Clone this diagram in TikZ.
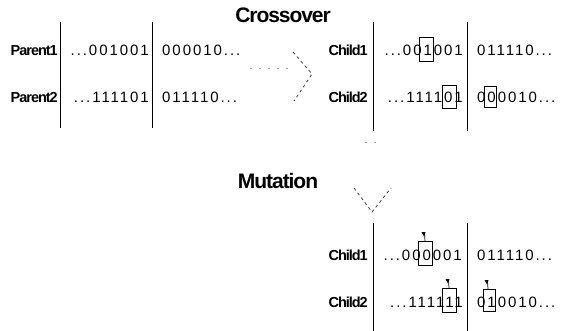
\documentclass[tikz,border=0pt]{standalone}
\usepackage{fontspec}
\setmainfont{Liberation Sans}
\newfontfamily\bitsfont[LetterSpace=13]{Liberation Sans}
\newfontfamily\lblfont[LetterSpace=-7]{Liberation Sans}
\newfontfamily\ttlfont[LetterSpace=-5]{Liberation Sans}
\usetikzlibrary{arrows.meta}
\tikzset{
  bits/.style={font=\bitsfont\fontsize{15}{15}\selectfont, inner sep=0pt},
  lbl/.style={font=\lblfont\bfseries\fontsize{14.5}{14.5}\selectfont, inner sep=0pt, anchor=base east},
  ttl/.style={font=\ttlfont\bfseries\fontsize{21}{21}\selectfont, inner sep=0pt},
  divider/.style={line width=1pt},
  hl/.style={draw, line width=0.8pt, inner sep=0pt},
  flow/.style={dash pattern=on 3pt off 3pt, line width=0.8pt, black!75},
  faint/.style={dash pattern=on 2pt off 7pt, line width=0.6pt, black!35},
  pointer/.style={line width=0.7pt},
}
\newcommand{\flag}[2]{% small marker above a mutated bit
  \draw[pointer] (#1,#2) -- (#1-0.5,#2-8);
  \fill (#1-3.5,#2-9) -- (#1+0.5,#2-9) -- (#1-1,#2-4.5) -- cycle;}
\begin{document}
\begin{tikzpicture}[x=1pt,y=-1pt]
\useasboundingbox (0,0) rectangle (570,331);

% titles
\node[ttl] (tcross) at (283,15) {Crossover};
\node[ttl] (tmut) at (278,181) {Mutation};

% parents
\draw[divider] (60,22) -- (60,128);
\draw[divider] (152,22) -- (152,128);
\node[lbl] (p1) at (58,56) {Parent1};
\node[lbl] (p2) at (58,103) {Parent2};
\node[bits, anchor=base east] (p1a) at (149,56) {...001001};
\node[bits, anchor=base west] (p1b) at (162,56) {000010...};
\node[bits, anchor=base east] (p2a) at (149,103) {...111101};
\node[bits, anchor=base west] (p2b) at (162,103) {011110...};

% children after crossover
\draw[divider] (373,22) -- (373,131);
\draw[divider] (467,22) -- (467,131);
\node[lbl] (c1) at (368,56) {Child1};
\node[lbl] (c2) at (368,103) {Child2};
\node[bits, anchor=base east] (c1a) at (463,56) {...001001};
\node[bits, anchor=base west] (c1b) at (477,56) {011110...};
\node[bits, anchor=base east] (c2a) at (463,103) {...111101};
\node[bits, anchor=base west] (c2b) at (477,103) {000010...};
\node[hl, minimum width=14, minimum height=24] (h1) at (426,49) {};
\node[hl, minimum width=14, minimum height=23] (h2) at (449,96.5) {};
\node[hl, minimum width=12, minimum height=21] (h3) at (490,96.5) {};

% children after mutation
\draw[divider] (373,223) -- (373,331);
\draw[divider] (467,223) -- (467,331);
\node[lbl] (m1) at (368,260) {Child1};
\node[lbl] (m2) at (368,307) {Child2};
\node[bits, anchor=base east] (m1a) at (462,260) {...000001};
\node[bits, anchor=base west] (m1b) at (477,260) {011110...};
\node[bits, anchor=base east] (m2a) at (463,307) {...111111};
\node[bits, anchor=base west] (m2b) at (477,307) {010010...};
\node[hl, minimum width=14, minimum height=24] (g1) at (425,253) {};
\node[hl, minimum width=14, minimum height=24] (g2) at (449,300) {};
\node[hl, minimum width=12, minimum height=22] (g3) at (489,300) {};
\flag{425}{241}
\flag{449}{288}
\flag{488}{289}

% crossover arrow
\coordinate (xs) at (250,68);
\coordinate (xe) at (293,68);
\coordinate (xt) at (293,52);
\coordinate (xp) at (312,74);
\coordinate (xl) at (294,101);
\draw[faint] (xs) -- (xe);
\draw[flow] (xt) -- (xp) -- (xl);

% mutation arrow
\coordinate (ms) at (365,142);
\coordinate (me) at (380,142);
\coordinate (mt) at (354,188);
\coordinate (mp) at (372,212);
\coordinate (mu) at (391,188);
\draw[faint] (ms) -- (me);
\draw[flow] (mt) -- (mp) -- (mu);
\end{tikzpicture}
\end{document}
